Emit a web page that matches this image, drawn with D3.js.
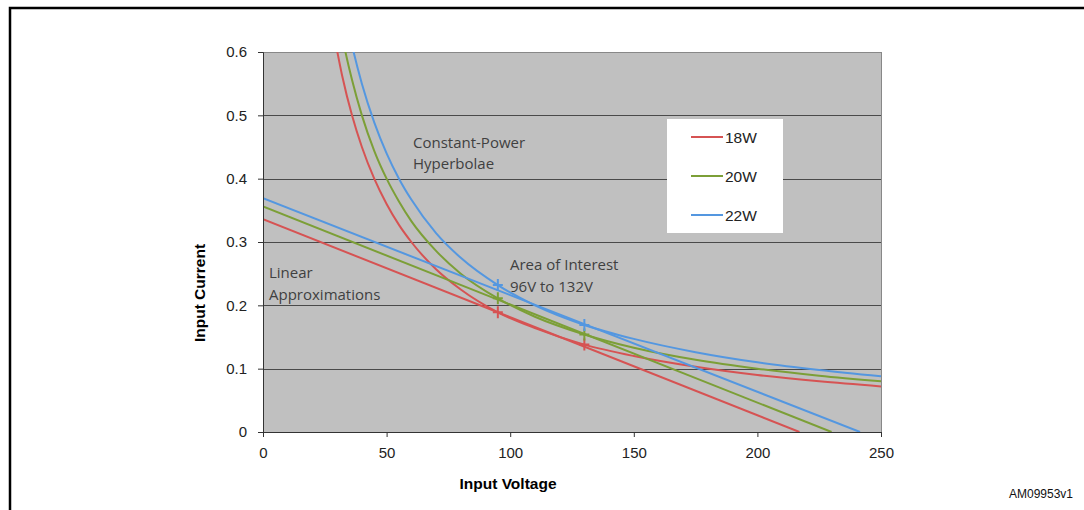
<!DOCTYPE html>
<html>
<head>
<meta charset="utf-8">
<script src="https://cdn.jsdelivr.net/npm/d3@7"></script>
<style>
  body { margin: 0; background: #fff; }
  svg { display: block; }
  .axis text { font-family: Arial, "Liberation Sans", sans-serif; font-size: 15px; fill: #222; }
  .axis path, .axis line { stroke: #333; }
  .note { font-family: "Open Sans", Lato, sans-serif; font-size: 15px; fill: #404040; }
</style>
</head>
<body>
<svg id="chart"></svg>
<script>
// series and legend labels
const seriesNames = ["18W", "20W", "22W"];
const seriesColors = ["#d65353", "#7c9f37", "#5497e0"];

// constant-power hyperbolae
const voltages = [28, 32, 36, 40, 45, 50, 55, 60, 70, 80, 95, 110, 130, 150, 175, 200, 225, 250];
const current18W = [0.643, 0.563, 0.500, 0.450, 0.400, 0.360, 0.327, 0.300, 0.257, 0.225, 0.189, 0.164, 0.138, 0.120, 0.103, 0.090, 0.080, 0.072];
const current20W = [0.714, 0.625, 0.556, 0.500, 0.444, 0.400, 0.364, 0.333, 0.286, 0.250, 0.211, 0.182, 0.154, 0.133, 0.114, 0.100, 0.089, 0.080];
const current22W = [0.786, 0.688, 0.611, 0.550, 0.489, 0.440, 0.400, 0.367, 0.314, 0.275, 0.232, 0.200, 0.169, 0.147, 0.126, 0.110, 0.098, 0.088];

// linear approximations: [start voltage, start current], [end voltage, end current]
const linear18W = [[0, 0.336], [217, 0]];
const linear20W = [[0, 0.356], [230, 0]];
const linear22W = [[0, 0.369], [241.5, 0]];

// area of interest markers
const markerVoltages = [95, 130];

const xTicks = [0, 50, 100, 150, 200, 250];
const yTicks = [0, 0.1, 0.2, 0.3, 0.4, 0.5, 0.6];

const width = 1084, height = 510;
const margin = { left: 263, right: 203, top: 52, bottom: 78 };
const innerW = width - margin.left - margin.right;
const innerH = height - margin.top - margin.bottom;

const svg = d3.select("#chart").attr("width", width).attr("height", height);

// outer frame (cut off at right and bottom)
svg.append("rect")
    .attr("x", 10).attr("y", 8)
    .attr("width", 1090).attr("height", 520)
    .attr("fill", "none").attr("stroke", "#000").attr("stroke-width", 2.5);

const x = d3.scaleLinear().domain([0, 250]).range([0, innerW]);
const y = d3.scaleLinear().domain([0, 0.6]).range([innerH, 0]);

const g = svg.append("g").attr("transform", `translate(${margin.left},${margin.top})`);

g.append("rect").attr("width", innerW).attr("height", innerH).attr("fill", "#c0c0c0");

g.append("defs").append("clipPath").attr("id", "plot")
    .append("rect").attr("width", innerW).attr("height", innerH);

// gridlines
g.append("g")
    .selectAll("line")
    .data(yTicks.slice(1))
    .join("line")
        .attr("x1", 0).attr("x2", innerW)
        .attr("y1", d => Math.round(y(d)) + 0.5).attr("y2", d => Math.round(y(d)) + 0.5)
        .attr("stroke", d => d === 0.6 ? "#888" : "#4a4a4a")
        .attr("stroke-width", 1.2);

g.append("line")
    .attr("x1", innerW + 0.5).attr("x2", innerW + 0.5)
    .attr("y1", 0).attr("y2", innerH)
    .attr("stroke", "#888");

const series = [
    { name: seriesNames[0], color: seriesColors[0], curve: current18W, linear: linear18W },
    { name: seriesNames[1], color: seriesColors[1], curve: current20W, linear: linear20W },
    { name: seriesNames[2], color: seriesColors[2], curve: current22W, linear: linear22W },
];

const curveLine = d3.line()
    .curve(d3.curveMonotoneX)
    .x(d => x(d[0]))
    .y(d => y(d[1]));

const plot = g.append("g").attr("clip-path", "url(#plot)");

series.forEach(s => {
    plot.append("path")
        .datum(voltages.map((v, i) => [v, s.curve[i]]))
        .attr("d", curveLine)
        .attr("fill", "none")
        .attr("stroke", s.color)
        .attr("stroke-width", 2);

    plot.append("path")
        .datum(s.linear)
        .attr("d", d3.line().x(d => x(d[0])).y(d => y(d[1])))
        .attr("fill", "none")
        .attr("stroke", s.color)
        .attr("stroke-width", 2);
});

// cross markers at 95V and 132V
series.forEach(s => {
    markerVoltages.forEach(v => {
        const i = voltages.indexOf(v);
        const cx = x(v), cy = y(s.curve[i]);
        plot.append("path")
            .attr("d", `M${cx - 5},${cy}H${cx + 5}M${cx},${cy - 6}V${cy + 6}`)
            .attr("stroke", s.color)
            .attr("stroke-width", 2);
    });
});

// axes
g.append("g")
    .attr("class", "axis")
    .attr("transform", `translate(0,${innerH})`)
    .call(d3.axisBottom(x).tickValues(xTicks).tickSize(5).tickPadding(10).tickFormat(d3.format("d")))
    .call(a => a.select(".domain").attr("stroke", "#333"));

g.append("g")
    .attr("class", "axis")
    .call(d3.axisLeft(y).tickValues(yTicks).tickSize(5).tickPadding(11).tickFormat(d => d === 0 ? "0" : d3.format(".1f")(d)))
    .call(a => a.select(".domain").attr("stroke", "#333"));

// axis titles
svg.append("text")
    .attr("x", 508).attr("y", 489)
    .attr("text-anchor", "middle")
    .style("font-family", "Arial, 'Liberation Sans', sans-serif")
    .style("font-size", "15.5px").style("font-weight", "bold")
    .text("Input Voltage");

svg.append("text")
    .attr("transform", "translate(205,293) rotate(-90)")
    .attr("text-anchor", "middle")
    .style("font-family", "Arial, 'Liberation Sans', sans-serif")
    .style("font-size", "15.5px").style("font-weight", "bold")
    .text("Input Current");

// annotations
const notes = [
    { x: 413, y: 148, t: "Constant-Power" },
    { x: 413, y: 169, t: "Hyperbolae" },
    { x: 269, y: 278, t: "Linear" },
    { x: 269, y: 300, t: "Approximations" },
    { x: 510, y: 270, t: "Area of Interest" },
    { x: 510, y: 292, t: "96V to 132V" },
];
svg.selectAll("text.note")
    .data(notes)
    .join("text")
        .attr("class", "note")
        .attr("x", d => d.x).attr("y", d => d.y)
        .text(d => d.t);

// legend
const legend = svg.append("g").attr("transform", "translate(667,119)");
legend.append("rect").attr("width", 116).attr("height", 114).attr("fill", "#fff");
series.forEach((s, i) => {
    const ly = 18 + i * 39;
    legend.append("line")
        .attr("x1", 24).attr("x2", 56)
        .attr("y1", ly).attr("y2", ly)
        .attr("stroke", s.color).attr("stroke-width", 2);
    legend.append("text")
        .attr("x", 58).attr("y", ly + 6)
        .style("font-family", "Arial, 'Liberation Sans', sans-serif")
        .style("font-size", "15.5px").attr("fill", "#222")
        .text(s.name);
});

svg.append("text")
    .attr("x", 1073).attr("y", 498)
    .attr("text-anchor", "end")
    .style("font-family", "'Liberation Sans Narrow', Arial, sans-serif")
    .style("font-size", "12px").attr("fill", "#111")
    .text("AM09953v1");
</script>
</body>
</html>
